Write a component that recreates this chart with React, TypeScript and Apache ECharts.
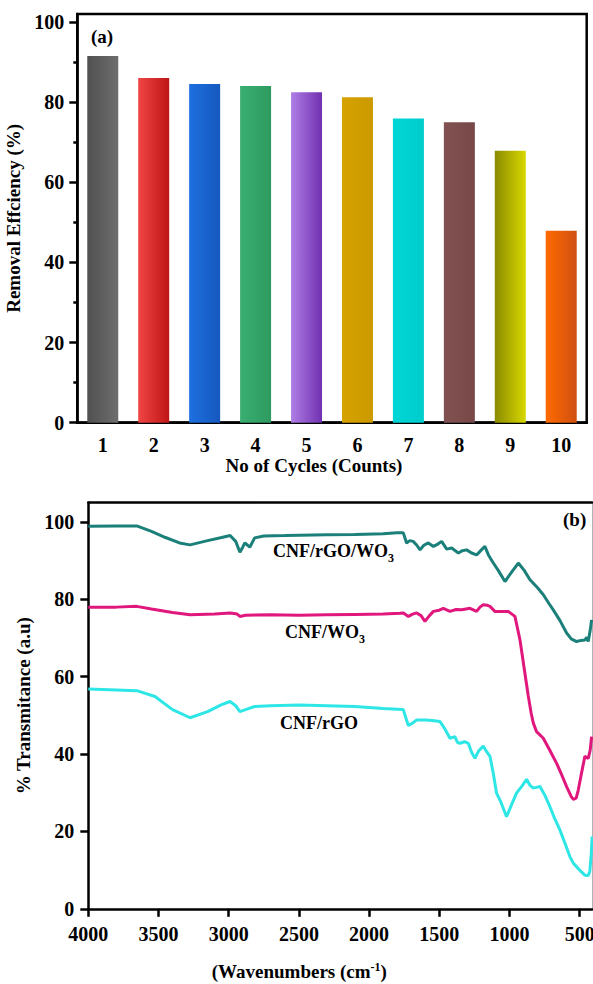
import React, { useEffect, useRef } from "react";
import * as echarts from "echarts";

const cycles = ["1", "2", "3", "4", "5", "6", "7", "8", "9", "10"];
const efficiency = [91.5, 86, 84.5, 84, 82.5, 81.2, 75.9, 75, 67.9, 47.9];
const barColors: [string, string][] = [
  ["#505050", "#6e6e6e"],
  ["#f04545", "#c01515"],
  ["#1e6fe0", "#1559bf"],
  ["#3aae70", "#2e9a60"],
  ["#b07ee6", "#7030b0"],
  ["#d6a200", "#cc9a00"],
  ["#00d6d6", "#00cccc"],
  ["#825252", "#784848"],
  ["#8a8a00", "#d8d800"],
  ["#ff6a00", "#d05012"],
];
const yTicksA = [0, 20, 40, 60, 80, 100];
const yMinorA = [10, 30, 50, 70, 90];

const xTicksB = [4000, 3500, 3000, 2500, 2000, 1500, 1000, 500];
const yTicksB = [0, 20, 40, 60, 80, 100];

const cnfRgoWo3: [number, number][] = [
  [4000, 98.9], [3800, 99.0], [3655, 99.0], [3550, 97.6], [3450, 96.0], [3350, 94.6], [3275, 94.1],
  [3150, 95.2], [3050, 96.0], [2990, 96.5], [2950, 95.0], [2920, 92.2], [2900, 93.5], [2885, 94.6],
  [2865, 94.0], [2850, 93.5], [2815, 95.9], [2750, 96.4], [2600, 96.5], [2495, 96.6], [2300, 96.7],
  [2100, 96.8], [1900, 97.0], [1800, 97.2], [1756, 97.2], [1733, 94.6], [1710, 95.2], [1686, 95.0],
  [1660, 94.0], [1637, 92.8], [1610, 94.0], [1578, 94.6], [1542, 93.7], [1510, 94.3], [1483, 95.0],
  [1447, 93.0], [1412, 93.3], [1364, 92.0], [1335, 92.6], [1305, 92.8], [1270, 92.0], [1234, 91.5],
  [1200, 92.8], [1175, 93.7], [1150, 91.5], [1115, 89.4], [1080, 87.5], [1032, 84.6], [990, 86.8],
  [937, 89.4], [895, 87.5], [854, 85.1], [800, 83.0], [759, 81.2], [720, 79.0], [688, 77.3],
  [640, 74.5], [593, 71.3], [560, 69.8], [522, 69.1], [490, 69.4], [463, 69.5], [450, 70.2],
  [439, 69.1], [425, 72.0], [415, 74.7],
];
const cnfWo3: [number, number][] = [
  [4000, 78.0], [3800, 78.0], [3655, 78.2], [3550, 77.5], [3400, 76.6], [3275, 76.0], [3100, 76.2],
  [2990, 76.5], [2940, 76.2], [2920, 75.6], [2880, 75.9], [2700, 76.0], [2500, 75.9], [2300, 76.0],
  [2100, 76.1], [1900, 76.2], [1780, 76.4], [1756, 76.5], [1720, 75.6], [1690, 76.2], [1661, 76.5],
  [1630, 75.8], [1602, 74.3], [1570, 75.8], [1542, 76.9], [1500, 77.2], [1471, 77.7], [1424, 76.9],
  [1380, 77.4], [1340, 77.3], [1281, 77.7], [1234, 76.9], [1210, 78.0], [1187, 78.6], [1160, 78.5],
  [1139, 78.2], [1104, 76.9], [1050, 76.9], [1009, 76.9], [961, 75.6], [925, 69.5], [890, 60.9],
  [866, 55.0], [845, 50.5], [830, 48.0], [807, 45.8], [759, 44.1], [710, 40.8], [664, 37.6],
  [630, 34.8], [593, 31.6], [560, 29.0], [545, 28.3], [525, 28.6], [510, 30.7], [490, 34.5],
  [463, 39.4], [439, 38.9], [425, 41.0], [415, 44.5],
];
const cnfRgo: [number, number][] = [
  [4000, 56.8], [3800, 56.6], [3655, 56.4], [3525, 54.9], [3400, 51.5], [3275, 49.4], [3150, 51.0],
  [3050, 52.8], [2990, 53.6], [2950, 52.5], [2920, 51.0], [2880, 51.5], [2815, 52.3], [2700, 52.5],
  [2495, 52.7], [2300, 52.5], [2100, 52.3], [1900, 51.8], [1800, 51.6], [1756, 51.5], [1735, 49.0],
  [1720, 47.4], [1700, 47.8], [1661, 48.8], [1600, 48.8], [1550, 48.7], [1495, 48.4], [1460, 46.5],
  [1424, 44.1], [1389, 44.5], [1370, 43.0], [1353, 42.8], [1320, 43.2], [1293, 42.8], [1270, 40.5],
  [1246, 38.9], [1220, 40.8], [1187, 42.1], [1160, 40.5], [1139, 39.4], [1115, 35.0], [1092, 29.9],
  [1060, 27.5], [1021, 23.8], [990, 26.5], [950, 29.9], [910, 31.8], [878, 33.5], [855, 32.0],
  [830, 31.2], [783, 31.6], [750, 29.5], [712, 26.4], [680, 23.5], [641, 20.4], [600, 16.5],
  [570, 13.5], [545, 11.8], [500, 10.0], [463, 8.7], [440, 8.6], [428, 9.6], [418, 14.0], [411, 18.7],
];

const FONT = "'Liberation Serif', 'Times New Roman', serif";
const black = "#000";

export default function App() {
  const ref = useRef<HTMLDivElement>(null);
  useEffect(() => {
    document.body.style.margin = "0";
    const chart = echarts.init(ref.current!, undefined, { renderer: "svg" });
    const plain = (v: number | string) => String(v);
    const tickLabel = { fontSize: 20, fontWeight: "bold" as const, color: black, fontFamily: FONT };
    const nameStyle = { fontSize: 19, fontWeight: "bold" as const, color: black, fontFamily: FONT };
    const axisLine = { show: true, onZero: false, lineStyle: { color: black, width: 2.5 } };
    const subRich = {
      a: { fontSize: 18, fontWeight: "bold", fontFamily: FONT, color: black, lineHeight: 26 },
      s: { fontSize: 12, fontWeight: "bold", fontFamily: FONT, color: black, verticalAlign: "bottom", lineHeight: 26 },
    };
    chart.setOption({
      animation: false,
      backgroundColor: "#fff",
      grid: [
        {
          left: 77.3, top: 14, width: 509.4, height: 408.7, show: true, borderColor: black, borderWidth: 2.5,
          containLabel: false, outerBoundsMode: "none",
        },
        { left: 88.3, top: 502.7, width: 504, height: 406.1, show: false, containLabel: false, outerBoundsMode: "none" },
      ],
      xAxis: [
        {
          type: "category",
          gridIndex: 0,
          data: cycles,
          axisLine,
          axisTick: { alignWithLabel: true, length: 7, lineStyle: { color: black, width: 2.5 } },
          axisLabel: { ...tickLabel, margin: 12 },
          name: "No of Cycles (Counts)",
          nameLocation: "middle",
          nameGap: 32,
          nameTextStyle: { ...nameStyle, padding: [0, 36, 0, 0] },
          splitLine: { show: false },
        },
        {
          type: "value",
          gridIndex: 1,
          min: 410,
          max: 4000,
          inverse: true,
          axisLine,
          axisTick: { length: 8, customValues: xTicksB, lineStyle: { color: black, width: 2.5 } },
          axisLabel: { ...tickLabel, margin: 15, customValues: xTicksB, formatter: plain, hideOverlap: false },
          name: "(Wavenumbers (cm{sup|-1})",
          nameLocation: "middle",
          nameGap: 52,
          nameTextStyle: {
            ...nameStyle,
            padding: [0, 82, 0, 0],
            rich: {
              sup: { fontSize: 12, fontWeight: "bold", fontFamily: FONT, color: black, verticalAlign: "top", lineHeight: 22 },
            },
          },
          splitLine: { show: false },
        },
        {
          type: "value",
          gridIndex: 1,
          position: "top",
          min: 410,
          max: 4000,
          inverse: true,
          axisLine,
          axisTick: { show: false },
          axisLabel: { show: false },
          splitLine: { show: false },
        },
      ],
      yAxis: [
        {
          type: "value",
          gridIndex: 0,
          min: 0,
          max: 102,
          axisLine,
          axisTick: { show: true, length: 8, customValues: yTicksA, lineStyle: { color: black, width: 2.5 } },
          axisLabel: { ...tickLabel, margin: 13, customValues: yTicksA, formatter: plain },
          name: "Removal Effciency (%)",
          nameLocation: "middle",
          nameGap: 45,
          nameTextStyle: nameStyle,
          splitLine: { show: false },
        },
        {
          type: "value",
          gridIndex: 0,
          min: 0,
          max: 102,
          axisLine: { show: false },
          axisTick: { show: true, length: 4, customValues: yMinorA, lineStyle: { color: black, width: 2.5 } },
          axisLabel: { show: false },
          splitLine: { show: false },
          position: "left",
        },
        {
          type: "value",
          gridIndex: 1,
          min: 0,
          max: 105,
          axisLine,
          axisTick: { show: true, length: 8, customValues: yTicksB, lineStyle: { color: black, width: 2.5 } },
          axisLabel: { ...tickLabel, margin: 14, customValues: yTicksB, formatter: plain },
          name: "% Transmitance (a.u)",
          nameLocation: "middle",
          nameGap: 49,
          nameTextStyle: nameStyle,
          splitLine: { show: false },
        },
        {
          type: "value",
          gridIndex: 1,
          position: "right",
          min: 0,
          max: 105,
          axisLine: { show: true, onZero: false, lineStyle: { color: "#999", width: 1.5 } },
          axisTick: { show: false },
          axisLabel: { show: false },
          splitLine: { show: false },
        },
      ],
      series: [
        {
          type: "bar",
          xAxisIndex: 0,
          yAxisIndex: 0,
          barWidth: 31,
          data: efficiency.map((v, i) => ({
            value: v,
            itemStyle: {
              color: new echarts.graphic.LinearGradient(0, 0, 1, 0, [
                { offset: 0, color: barColors[i][0] },
                { offset: 1, color: barColors[i][1] },
              ]),
            },
          })),
        },
        {
          type: "line",
          name: "CNF/rGO/WO3",
          xAxisIndex: 1,
          yAxisIndex: 2,
          data: cnfRgoWo3,
          showSymbol: false,
          lineStyle: { color: "#1b7f7a", width: 3 },
          itemStyle: { color: "#1b7f7a" },
        },
        {
          type: "line",
          name: "CNF/WO3",
          xAxisIndex: 1,
          yAxisIndex: 2,
          data: cnfWo3,
          showSymbol: false,
          lineStyle: { color: "#e0177d", width: 3 },
          itemStyle: { color: "#e0177d" },
        },
        {
          type: "line",
          name: "CNF/rGO",
          xAxisIndex: 1,
          yAxisIndex: 2,
          data: cnfRgo,
          showSymbol: false,
          lineStyle: { color: "#2ee6e6", width: 3 },
          itemStyle: { color: "#2ee6e6" },
        },
      ],
      graphic: [
        {
          type: "text",
          left: 91,
          top: 27,
          style: { text: "(a)", fontSize: 19, fontWeight: "bold", fontFamily: FONT, fill: black },
        },
        {
          type: "text",
          left: 563,
          top: 510,
          style: { text: "(b)", fontSize: 19, fontWeight: "bold", fontFamily: FONT, fill: black },
        },
        {
          type: "text",
          left: 273,
          top: 542,
          style: { text: "{a|CNF/rGO/WO}{s|3}", rich: subRich },
        },
        {
          type: "text",
          left: 285,
          top: 623,
          style: { text: "{a|CNF/WO}{s|3}", rich: subRich },
        },
        {
          type: "text",
          left: 280,
          top: 714,
          style: { text: "{a|CNF/rGO}", rich: subRich },
        },
      ],
    });
    return () => chart.dispose();
  }, []);
  return <div ref={ref} style={{ width: 593, height: 984 }} />;
}
